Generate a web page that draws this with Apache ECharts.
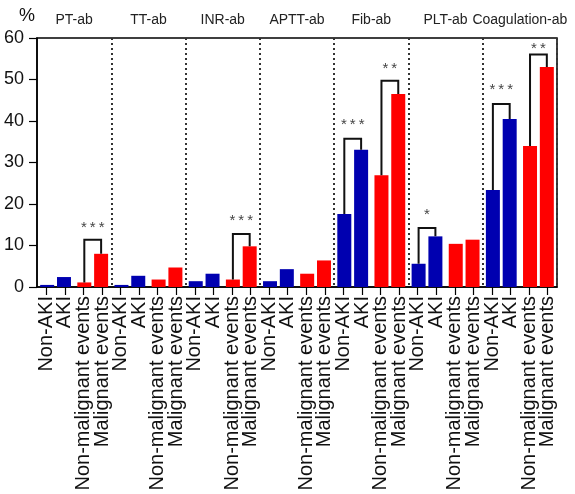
<!DOCTYPE html>
<html>
<head>
<meta charset="utf-8">
<script src="https://cdn.jsdelivr.net/npm/echarts@6/dist/echarts.min.js"></script>
<style>
html,body{margin:0;padding:0;background:#fff;}
#chart{width:575px;height:494px;}
</style>
</head>
<body>
<div id="chart"></div>
<script>
// ---- data ----
var groups = ['PT-ab', 'TT-ab', 'INR-ab', 'APTT-ab', 'Fib-ab', 'PLT-ab', 'Coagulation-ab'];
var barLabels = ['Non-AKI', 'AKI', 'Non-malignant events', 'Malignant events'];
var nonAKI = [0.5, 0.5, 1.4, 1.4, 17.6, 5.6, 23.4];
var aki = [2.4, 2.7, 3.2, 4.3, 33.1, 12.2, 40.5];
var nonMalignant = [1.1, 1.8, 1.8, 3.2, 26.9, 10.4, 34.0];
var malignant = [8.0, 4.7, 9.8, 6.4, 46.5, 11.4, 53.0];
var yTicks = [0, 10, 20, 30, 40, 50, 60];
// significance brackets: [pair index, left bar value, right bar value, bracket top, star level, stars]
var brackets = [
  [1, 1.1, 8.0, 11.4, 15.0, '***'],
  [5, 1.8, 9.8, 12.8, 16.7, '***'],
  [8, 17.6, 33.1, 35.7, 39.7, '***'],
  [9, 26.9, 46.5, 49.7, 53.4, '**'],
  [10, 5.6, 12.2, 14.2, 18.0, '*'],
  [12, 23.4, 40.5, 44.1, 48.2, '***'],
  [13, 34.0, 53.0, 56.0, 58.2, '**']
];

// ---- build ----
var BLUE = '#0000B0', RED = '#FF0000';
var BAR_W = 14, BAR_GAP = 0.2;
var FONT = "'Liberation Sans', Arial, Helvetica, sans-serif";

var allLabels = [];
groups.forEach(function () { barLabels.forEach(function (l) { allLabels.push(l); }); });

var pairCats = [];
var leftData = [], rightData = [];
groups.forEach(function (g, gi) {
  pairCats.push(g + '-AKI');
  pairCats.push(g + '-Mal');
  leftData.push({ value: nonAKI[gi], itemStyle: { color: BLUE } });
  rightData.push({ value: aki[gi], itemStyle: { color: BLUE } });
  leftData.push({ value: nonMalignant[gi], itemStyle: { color: RED } });
  rightData.push({ value: malignant[gi], itemStyle: { color: RED } });
});

var chart = echarts.init(document.getElementById('chart'), null, { renderer: 'canvas' });
var halfOffset = (BAR_W + BAR_W * BAR_GAP) / 2;

var option = {
  animation: false,
  backgroundColor: '#fff',
  grid: { left: 37, right: 18, top: 38, bottom: 207, show: true, borderColor: '#000', borderWidth: 1.5, backgroundColor: 'transparent' },
  xAxis: [
    {
      type: 'category', data: allLabels, position: 'bottom',
      axisLine: { show: true, lineStyle: { color: '#000', width: 1.5 } },
      axisTick: { show: true, alignWithLabel: true, interval: 0, length: 8, lineStyle: { color: '#000', width: 1.2 } },
      axisLabel: { interval: 0, rotate: 90, margin: 9, fontSize: 20, color: '#111', fontFamily: FONT },
      splitLine: { show: false }
    },
    {
      type: 'category', data: pairCats, position: 'bottom',
      axisLine: { show: false }, axisTick: { show: false }, axisLabel: { show: false }, splitLine: { show: false }
    },
    {
      type: 'category', data: groups, position: 'top',
      axisLine: { show: false }, axisTick: { show: false },
      axisLabel: { interval: 0, margin: 11, fontSize: 14, color: '#222', fontFamily: FONT },
      splitLine: {
        show: true,
        interval: function (i) { return i > 0 && i < groups.length; },
        lineStyle: { color: '#333', width: 2, type: [2, 3] }
      }
    }
  ],
  yAxis: {
    type: 'value', min: yTicks[0], max: yTicks[yTicks.length - 1], interval: 10,
    name: '%', nameLocation: 'end', nameGap: 13,
    nameTextStyle: { fontSize: 18, color: '#111', align: 'right', padding: [0, 2, 0, 0], fontFamily: FONT },
    axisLine: { show: true, lineStyle: { color: '#000', width: 1.5 } },
    axisTick: { show: true, length: 8, lineStyle: { color: '#000', width: 1.2 } },
    axisLabel: { fontSize: 18, color: '#111', margin: 13, fontFamily: FONT },
    splitLine: { show: false }
  },
  series: [
    { type: 'bar', xAxisIndex: 1, data: leftData, barWidth: BAR_W, barGap: (BAR_GAP * 100) + '%' },
    { type: 'bar', xAxisIndex: 1, data: rightData, barWidth: BAR_W, barGap: (BAR_GAP * 100) + '%' },
    {
      type: 'custom', xAxisIndex: 1, z: 5,
      data: brackets.map(function (b) { return b.slice(0, 5); }),
      renderItem: function (params, api) {
        var cx = api.coord([api.value(0), 0])[0];
        var xl = cx - halfOffset, xr = cx + halfOffset;
        var yl = api.coord([api.value(0), api.value(1)])[1];
        var yr = api.coord([api.value(0), api.value(2)])[1];
        var yt = api.coord([api.value(0), api.value(3)])[1];
        var ys = api.coord([api.value(0), api.value(4)])[1];
        var stars = brackets[params.dataIndex][5];
        return {
          type: 'group',
          children: [
            { type: 'polyline', shape: { points: [[xl, yl], [xl, yt], [xr, yt], [xr, yr]] },
              style: { stroke: '#111', lineWidth: 2, fill: null } },
            { type: 'text', style: { text: stars.split('').join('\u2009'), x: cx, y: ys + 3, textAlign: 'center', textVerticalAlign: 'middle',
              fontSize: 15, fill: '#444', fontFamily: FONT } }
          ]
        };
      }
    }
  ]
};
chart.setOption(option);
</script>
</body>
</html>
